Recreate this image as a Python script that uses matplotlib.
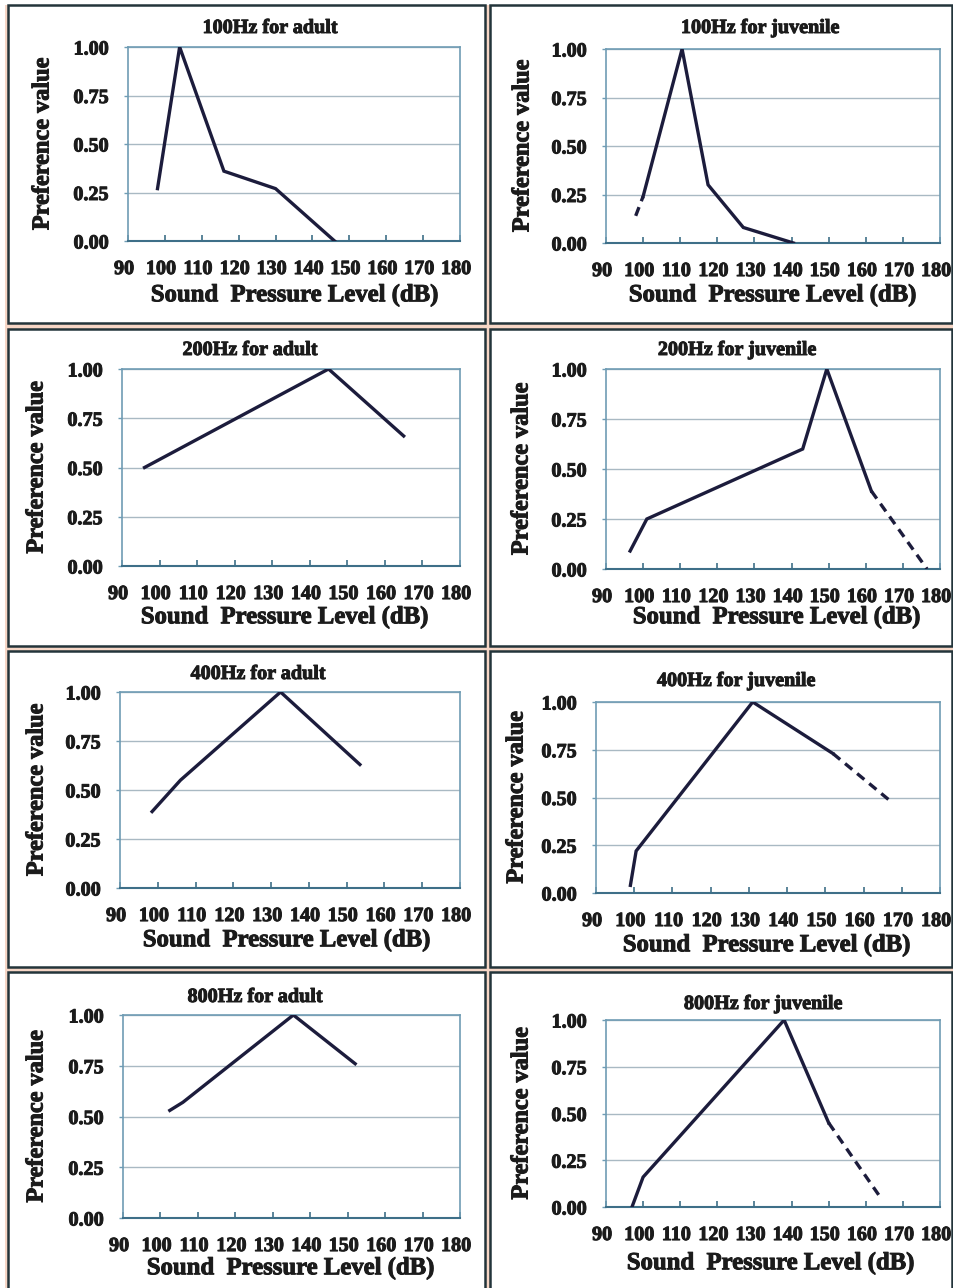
import matplotlib
matplotlib.use("Agg")
import matplotlib.pyplot as plt
import matplotlib.patheffects as pe
import matplotlib.transforms as mtrans
from matplotlib.patches import Rectangle

plt.rcParams['font.family'] = ['Liberation Serif', 'DejaVu Serif']
plt.rcParams['font.weight'] = 'bold'

W, H = 954, 1288

# preference curves: solid part, then dashed extrapolation (may be empty)
titles = ["100Hz for adult", "100Hz for juvenile",
          "200Hz for adult", "200Hz for juvenile",
          "400Hz for adult", "400Hz for juvenile",
          "800Hz for adult", "800Hz for juvenile"]

spl_a100 = [98, 104, 116, 130, 146]
pref_a100 = [0.27, 1.00, 0.36, 0.27, 0.00]

spl_j100 = [100, 110.5, 117.5, 127, 140.5]
pref_j100 = [0.24, 1.00, 0.30, 0.08, 0.00]
spl_j100_ext = [98, 100]
pref_j100_ext = [0.14, 0.24]

spl_a200 = [96, 145, 165]
pref_a200 = [0.50, 1.00, 0.66]

spl_j200 = [96.5, 101, 143, 149.5, 161.5]
pref_j200 = [0.09, 0.25, 0.60, 1.00, 0.39]
spl_j200_ext = [161.5, 176.5]
pref_j200_ext = [0.39, 0.00]

spl_a400 = [98.5, 106, 132.5, 153.5]
pref_a400 = [0.39, 0.55, 1.00, 0.63]

spl_j400 = [99, 100.5, 131, 152]
pref_j400 = [0.04, 0.22, 1.00, 0.73]
spl_j400_ext = [152, 166.5]
pref_j400_ext = [0.73, 0.49]

spl_a800 = [102.5, 106, 135.5, 152]
pref_a800 = [0.53, 0.57, 1.00, 0.76]

spl_j800 = [97, 100, 138, 150]
pref_j800 = [0.00, 0.16, 1.00, 0.45]
spl_j800_ext = [150, 164]
pref_j800_ext = [0.45, 0.05]

curves = [(spl_a100, pref_a100, [], []),
          (spl_j100, pref_j100, spl_j100_ext, pref_j100_ext),
          (spl_a200, pref_a200, [], []),
          (spl_j200, pref_j200, spl_j200_ext, pref_j200_ext),
          (spl_a400, pref_a400, [], []),
          (spl_j400, pref_j400, spl_j400_ext, pref_j400_ext),
          (spl_a800, pref_a800, [], []),
          (spl_j800, pref_j800, spl_j800_ext, pref_j800_ext)]

x_ticks = list(range(90, 181, 10))
y_ticks = [0.0, 0.25, 0.5, 0.75, 1.0]

# pixel boxes (left, top, right, bottom) for axes
boxes = [(128, 47, 460, 241), (606, 49, 940, 243),
         (122, 369, 460, 566), (606, 369, 940, 569),
         (120, 692, 460, 888), (596, 702, 940, 893),
         (123, 1015, 460, 1218), (606, 1020, 940, 1207)]
title_pos = [(270, 28), (760, 28), (250, 350), (737, 350),
             (258, 674), (736, 681), (255, 997), (763, 1004)]
xlab_pos = [(295, 295), (773, 295), (285, 617), (777, 617),
            (287, 940), (767, 945), (291, 1268), (771, 1263)]
ylab_x = [43, 523, 37, 522, 37, 517, 37, 522]

# cell frames
cols = [(8, 485), (490, 952)]
rows = [(5, 323), (329, 646), (651, 967), (972, 1290)]

fig = plt.figure(figsize=(W / 100, H / 100), dpi=100)
fig.patch.set_facecolor('white')


def fx(px):
    return px / W


def fy(py):
    return 1 - py / H


dark = '#1b1b1b'
line_col = '#1c1c3c'
heavy = [pe.withStroke(linewidth=0.7, foreground=dark)]
# nudge x tick labels a few pixels left
shift = mtrans.ScaledTranslation(-4 / 100, 0, fig.dpi_scale_trans)

fig.add_artist(Rectangle((fx(5), fy(1290)), fx(949), 1285 / H,
                         transform=fig.transFigure, facecolor='#f6d6c6',
                         edgecolor='none', zorder=0))
for r0, r1 in rows:
    for c0, c1 in cols:
        fig.add_artist(Rectangle((fx(c0), fy(r1)), (c1 - c0) / W, (r1 - r0) / H,
                                 transform=fig.transFigure, facecolor='white',
                                 edgecolor='#23343a', linewidth=1.8, zorder=1))

for i, (l, t, r, b) in enumerate(boxes):
    ax = fig.add_axes([fx(l), fy(b), (r - l) / W, (b - t) / H])
    ax.set_zorder(2)
    xs, ys, xe, ye = curves[i]
    ax.plot(xs, ys, color=line_col, lw=2.4, solid_joinstyle='miter', zorder=3)
    if xe:
        ax.plot(xe, ye, color=line_col, lw=2.4, dashes=(2.8, 1.9), zorder=3)
    ax.set_xlim(90, 180)
    ax.set_ylim(0, 1)
    ax.set_xticks(x_ticks)
    ax.set_yticks(y_ticks)
    ax.set_xticklabels([str(v) for v in x_ticks])
    ax.set_yticklabels(['%.2f' % v for v in y_ticks])
    ax.grid(axis='y', color='#a9b9c3', lw=1.0)
    ax.set_axisbelow(True)
    for s in ax.spines.values():
        s.set_color('#6f9cb4')
        s.set_linewidth(1.2)
    ax.spines['bottom'].set_color('#3e6f88')
    ax.spines['bottom'].set_linewidth(1.5)
    ax.tick_params(axis='x', direction='in', length=4, width=1.2,
                   color='#3e6f88', pad=13, labelsize=14.5, labelcolor=dark)
    ax.tick_params(axis='y', direction='out', length=3, width=1,
                   color='#6f9cb4', pad=11, labelsize=14.5, labelcolor=dark)
    for lab in ax.get_xticklabels():
        lab.set_transform(lab.get_transform() + shift)
    for lab in ax.get_xticklabels() + ax.get_yticklabels():
        lab.set_fontweight('bold')
        lab.set_path_effects(heavy)

    fig.text(fx(title_pos[i][0]), fy(title_pos[i][1]), titles[i],
             ha='center', va='center', fontsize=14.5, fontweight='bold',
             color=dark, path_effects=heavy)
    fig.text(fx(xlab_pos[i][0]), fy(xlab_pos[i][1]), 'Sound  Pressure Level (dB)',
             ha='center', va='center', fontsize=17.8, fontweight='bold',
             color=dark, path_effects=heavy)
    fig.text(fx(ylab_x[i]), fy((t + b) / 2), 'Preference value', rotation=90,
             ha='center', va='center', fontsize=17.5, fontweight='bold',
             color=dark, path_effects=heavy)

fig.savefig('out.png', dpi=100, facecolor='white')
